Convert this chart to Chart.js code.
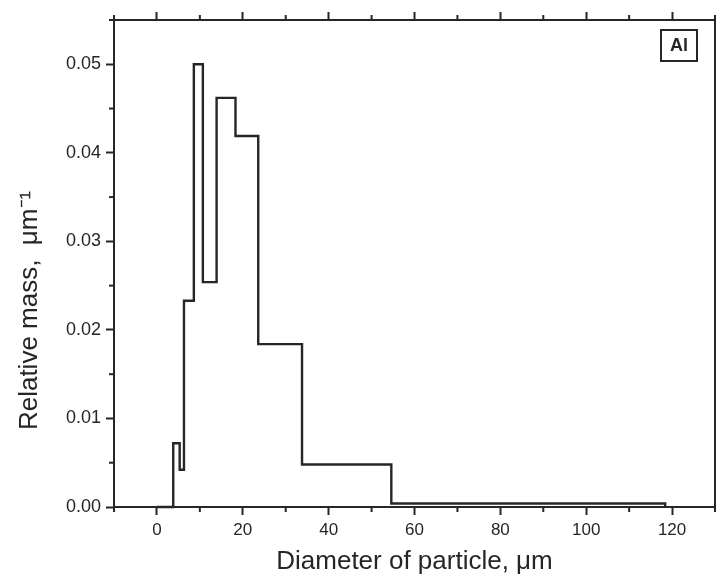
<!DOCTYPE html>
<html>
<head>
<meta charset="utf-8">
<script src="https://cdn.jsdelivr.net/npm/chart.js@4.4.1/dist/chart.umd.min.js"></script>
<style>
  html, body { margin: 0; padding: 0; background: #fff; }
  #wrap { width: 720px; height: 574px; }
</style>
</head>
<body>
<div id="wrap"><canvas id="sizeChart" width="720" height="574"></canvas></div>
<script>
// bin left edges (um) and relative mass of each bin (1/um)
var diameters = [0, 3.8, 5.3, 6.3, 8.6, 10.7, 13.9, 18.3, 23.6, 33.8, 54.6, 118.4];
var relMass = [0, 0.0072, 0.0042, 0.0233, 0.05, 0.0254, 0.0462, 0.0419, 0.0184, 0.0048, 0.0004, 0];
// labelled ticks
var xTicks = [0, 20, 40, 60, 80, 100, 120];
var yTicks = [0.0, 0.01, 0.02, 0.03, 0.04, 0.05];
var sampleName = "Al";

var ink = "#262626";
var fontFamily = "'Liberation Sans', Arial, sans-serif";

function isMajorX(v) {
  return xTicks.some(function (t) { return Math.abs(t - v) < 1e-6; });
}
function isMajorY(v) {
  return yTicks.some(function (t) { return Math.abs(t - v) < 1e-7; });
}

// short minor ticks + sample tag
var extras = {
  id: "extras",
  afterDraw: function (chart) {
    var ctx = chart.ctx;
    ctx.save();
    ctx.strokeStyle = ink;
    ctx.lineWidth = 2;
    ["x", "xTop", "y"].forEach(function (id) {
      var scale = chart.scales[id];
      scale.ticks.forEach(function (t) {
        var major = id === "y" ? isMajorY(t.value) : isMajorX(t.value);
        if (major) return;
        var p = scale.getPixelForValue(t.value);
        ctx.beginPath();
        if (id === "x") {
          ctx.moveTo(p, scale.top);
          ctx.lineTo(p, scale.top + 5);
        } else if (id === "xTop") {
          ctx.moveTo(p, scale.bottom);
          ctx.lineTo(p, scale.bottom - 5);
        } else {
          ctx.moveTo(scale.right, p);
          ctx.lineTo(scale.right - 5, p);
        }
        ctx.stroke();
      });
    });

    var area = chart.chartArea;
    var bx = area.right - 54, by = area.top + 10, bw = 36, bh = 31;
    ctx.strokeRect(bx, by, bw, bh);
    ctx.fillStyle = ink;
    ctx.font = "bold 18px " + fontFamily;
    ctx.textAlign = "center";
    ctx.textBaseline = "middle";
    ctx.fillText(sampleName, bx + bw / 2, by + bh / 2 + 1);
    ctx.restore();
  }
};

function tickColor(isMajor) {
  return function (c) {
    return c.tick && isMajor(c.tick.value) ? ink : "rgba(0,0,0,0)";
  };
}

new Chart(document.getElementById("sizeChart"), {
  type: "line",
  data: {
    datasets: [
      {
        data: diameters.map(function (d, i) { return { x: d, y: relMass[i] }; }),
        stepped: true,
        borderColor: ink,
        borderWidth: 2.4,
        pointRadius: 0,
        fill: false,
        clip: false,
      },
    ],
  },
  options: {
    responsive: false,
    animation: false,
    layout: { padding: 0 },
    plugins: {
      legend: { display: false },
      tooltip: { enabled: false },
    },
    scales: {
      x: {
        type: "linear",
        position: "bottom",
        min: -10,
        max: 130,
        afterFit: function (s) { s.height = 67; },
        border: { display: true, color: ink, width: 2 },
        grid: {
          drawOnChartArea: false,
          tickLength: 8,
          tickWidth: 2,
          tickColor: tickColor(isMajorX),
        },
        ticks: {
          stepSize: 10,
          padding: 5,
          color: ink,
          maxRotation: 0,
          autoSkip: false,
          font: { family: fontFamily, size: 17 },
          callback: function (v) { return isMajorX(v) ? String(v) : ""; },
        },
        title: {
          display: true,
          text: "Diameter of particle, \u03bcm",
          color: ink,
          padding: { top: 0, bottom: -3 },
          font: { family: fontFamily, size: 26 },
        },
      },
      xTop: {
        type: "linear",
        position: "top",
        min: -10,
        max: 130,
        afterFit: function (s) { s.height = 20; },
        border: { display: true, color: ink, width: 2 },
        grid: {
          drawOnChartArea: false,
          tickLength: 8,
          tickWidth: 2,
          tickColor: tickColor(isMajorX),
        },
        ticks: { stepSize: 10, display: false, autoSkip: false },
      },
      y: {
        type: "linear",
        position: "left",
        min: 0,
        max: 0.055,
        afterFit: function (s) { s.width = 114; },
        border: { display: true, color: ink, width: 2 },
        grid: {
          drawOnChartArea: false,
          tickLength: 8,
          tickWidth: 2,
          tickColor: tickColor(isMajorY),
        },
        ticks: {
          stepSize: 0.005,
          padding: 5,
          color: ink,
          autoSkip: false,
          font: { family: fontFamily, size: 18 },
          callback: function (v) { return isMajorY(v) ? v.toFixed(2) : ""; },
        },
        title: {
          display: true,
          // trailing spaces push the visible text down, as in the original
          text: "Relative mass,  \u03bcm\u207b\u00b9             ",
          color: ink,
          padding: { top: 14, bottom: 0 },
          font: { family: fontFamily, size: 26 },
        },
      },
      yRight: {
        type: "linear",
        position: "right",
        min: 0,
        max: 0.055,
        afterFit: function (s) { s.width = 2; },
        border: { display: true, color: ink, width: 2 },
        grid: { display: false, drawTicks: false },
        ticks: { display: false },
      },
    },
  },
  plugins: [extras],
});
</script>
</body>
</html>
